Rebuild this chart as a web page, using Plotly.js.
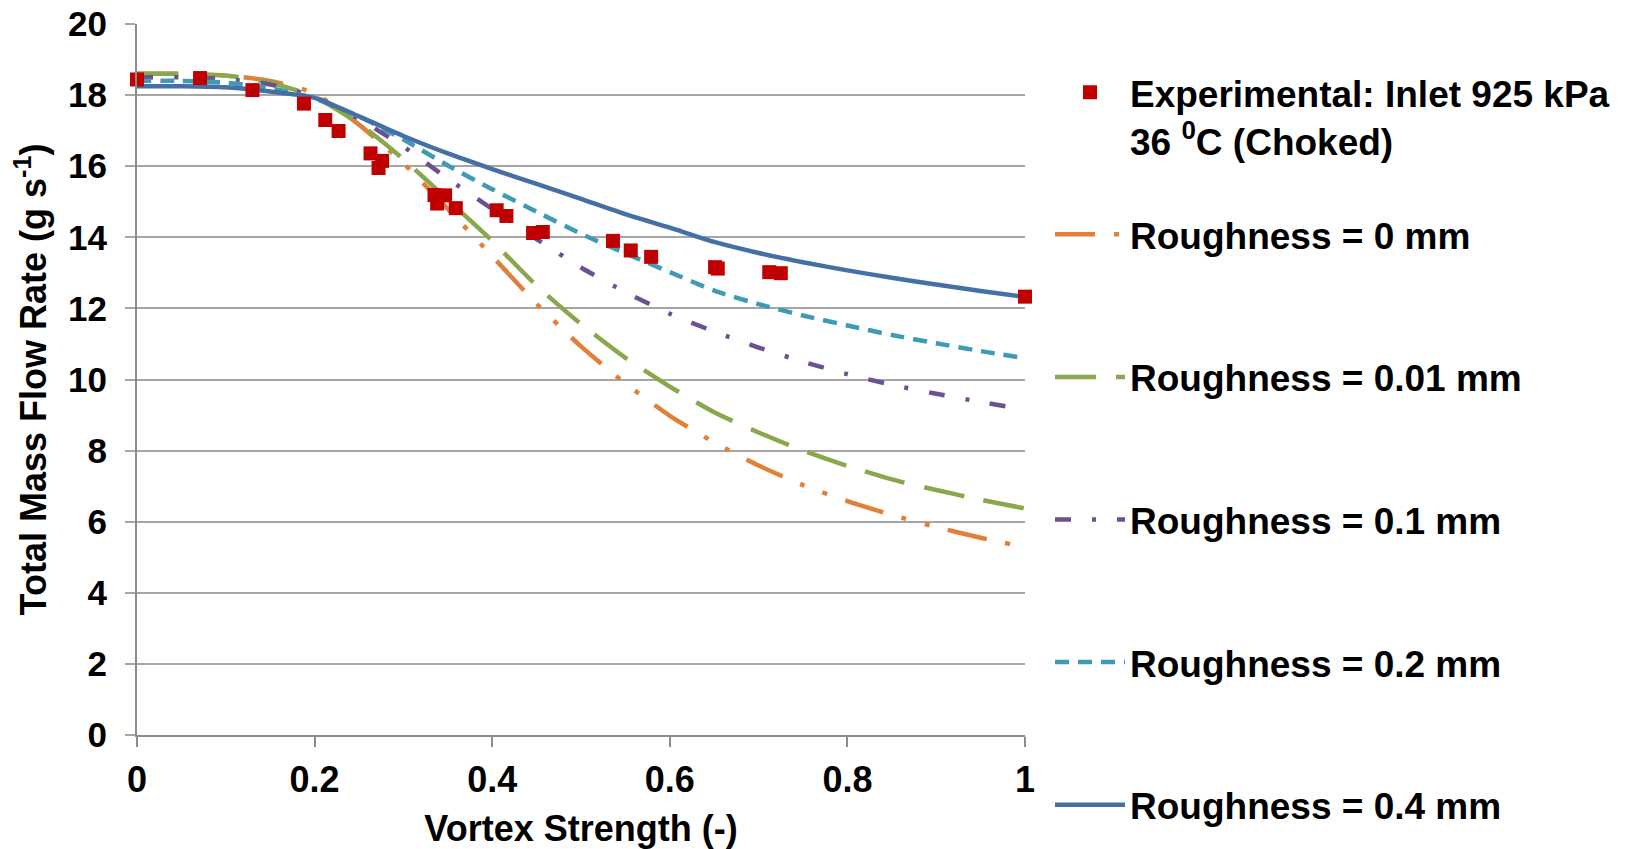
<!DOCTYPE html>
<html>
<head>
<meta charset="utf-8">
<script src="https://cdn.plot.ly/plotly-3.0.1.min.js"></script>
<style>
html,body{margin:0;padding:0;background:#fff;}
#chart{width:1626px;height:849px;}
</style>
</head>
<body>
<div id="chart"></div>
<script>
// Vortex strength grid for model curves
var vortex = [0, 0.05, 0.1, 0.15, 0.2, 0.25, 0.3, 0.35, 0.4, 0.45, 0.5, 0.55, 0.6, 0.65, 0.7, 0.75, 0.8, 0.85, 0.9, 0.95, 1.0];

var rough0    = [18.6, 18.6, 18.55, 18.4, 18.05, 17.17, 16.08, 14.8, 13.47, 12.13, 10.93, 9.89, 8.98, 8.23, 7.58, 7.03, 6.58, 6.19, 5.85, 5.55, 5.28];
var rough001  = [18.6, 18.6, 18.55, 18.35, 17.95, 17.2, 16.2, 15.05, 13.9, 12.64, 11.56, 10.61, 9.8, 9.08, 8.51, 8.0, 7.57, 7.19, 6.89, 6.62, 6.37];
var rough01   = [18.5, 18.5, 18.45, 18.3, 17.95, 17.33, 16.55, 15.65, 14.8, 13.95, 13.15, 12.46, 11.85, 11.35, 10.9, 10.5, 10.15, 9.85, 9.6, 9.37, 9.15];
var rough02   = [18.4, 18.4, 18.35, 18.2, 17.9, 17.4, 16.75, 16.02, 15.35, 14.72, 14.1, 13.55, 13.02, 12.5, 12.12, 11.8, 11.52, 11.25, 11.02, 10.8, 10.6];
var rough04   = [18.25, 18.25, 18.22, 18.1, 17.92, 17.4, 16.85, 16.36, 15.92, 15.5, 15.08, 14.65, 14.27, 13.87, 13.56, 13.3, 13.07, 12.86, 12.67, 12.49, 12.32];

// Experimental data
var expVortex = [0.0, 0.071, 0.130, 0.188, 0.212, 0.227, 0.263, 0.276, 0.272, 0.335, 0.347, 0.338, 0.359, 0.405, 0.416, 0.446, 0.457, 0.536, 0.556, 0.579, 0.651, 0.654, 0.712, 0.725, 1.0];
var expFlow   = [18.44, 18.48, 18.14, 17.76, 17.3, 16.99, 16.36, 16.15, 15.95, 15.19, 15.18, 14.95, 14.82, 14.76, 14.6, 14.12, 14.15, 13.9, 13.63, 13.45, 13.16, 13.12, 13.02, 12.99, 12.33];

var seriesNames = ['Roughness = 0 mm', 'Roughness = 0.01 mm', 'Roughness = 0.1 mm', 'Roughness = 0.2 mm', 'Roughness = 0.4 mm'];
var expName = 'Experimental: Inlet 925 kPa<br>36 <sup>0</sup>C (Choked)';

var FONT = 'Liberation Sans, Arial, Helvetica, sans-serif';
var colors = ['#E0803A', '#88A84B', '#6C5192', '#3F9AB4', '#4470A6'];
var dashes = ['40px,19px,5px,19px,5px,19px', '41px,20px', '16px,21px,4px,21px', '14px,9px', 'solid'];
var ys = [rough0, rough001, rough01, rough02, rough04];

var data = [];
for (var i = 0; i < ys.length; i++) {
  data.push({
    x: vortex, y: ys[i], type: 'scatter', mode: 'lines', name: seriesNames[i],
    line: {color: colors[i], width: 4.5, dash: dashes[i], shape: 'spline', smoothing: 0.6},
    legend: 'legend2', legendgroup: 'g' + i
  });
}
data.push({
  x: expVortex, y: expFlow, type: 'scatter', mode: 'markers', name: expName,
  marker: {symbol: 'square', size: 14, color: '#C00000'},
  cliponaxis: false, legend: 'legend'
});

var layout = {
  width: 1626, height: 849,
  paper_bgcolor: '#ffffff', plot_bgcolor: '#ffffff',
  margin: {l: 136.5, r: 600, t: 24.3, b: 114, pad: 0},
  font: {family: FONT, color: '#000000', weight: 700},
  xaxis: {
    range: [0, 1], dtick: 0.2, tick0: 0,
    showgrid: false, zeroline: false,
    showline: true, linecolor: '#8C8C8C', linewidth: 2,
    ticks: 'outside', ticklen: 10, tickwidth: 2, tickcolor: '#8C8C8C',
    tickfont: {family: FONT, size: 36, color: '#000', weight: 700},
    ticklabelstandoff: 2,
    title: {text: 'Vortex Strength (-)', font: {family: FONT, size: 36, color: '#000', weight: 700}, standoff: 19}
  },
  yaxis: {
    range: [0, 20], dtick: 2, tick0: 0,
    showgrid: true, gridcolor: '#A6A6A6', gridwidth: 2,
    zeroline: false,
    showline: true, linecolor: '#8C8C8C', linewidth: 2,
    ticks: 'outside', ticklen: 10, tickwidth: 2, tickcolor: '#A6A6A6',
    tickfont: {family: FONT, size: 35, color: '#000', weight: 700},
    ticklabelstandoff: 11,
    title: {text: 'Total Mass Flow Rate (g s<sup>-1</sup>)', font: {family: FONT, size: 36, color: '#000', weight: 700}, standoff: 10}
  },
  legend: {
    x: 1.027, xanchor: 'left', y: 0.947, yanchor: 'top',
    font: {family: FONT, size: 37, color: '#000', weight: 700},
    itemwidth: 70, valign: 'top', bgcolor: 'rgba(0,0,0,0)', borderwidth: 0
  },
  legend2: {
    x: 1.027, xanchor: 'left', y: 0.7472, yanchor: 'top',
    font: {family: FONT, size: 37, color: '#000', weight: 700},
    itemwidth: 70, traceorder: 'grouped', tracegroupgap: 91.5,
    bgcolor: 'rgba(0,0,0,0)', borderwidth: 0
  },
  showlegend: true
};

Plotly.newPlot('chart', data, layout, {displayModeBar: false, staticPlot: true});
</script>
</body>
</html>
